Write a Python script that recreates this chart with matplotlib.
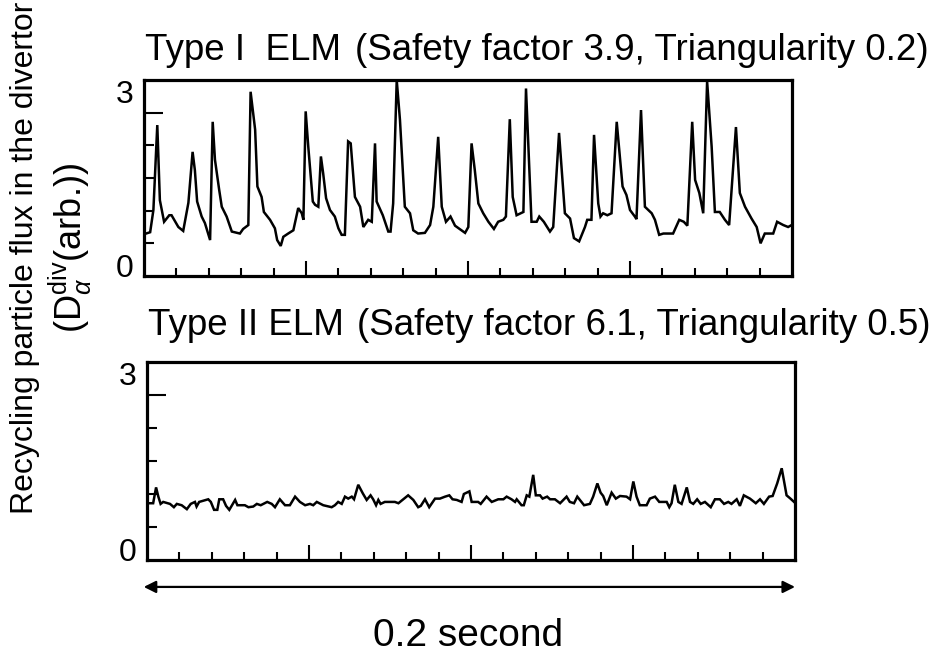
import matplotlib
matplotlib.use('agg')
import matplotlib.pyplot as plt
from matplotlib.ticker import FixedLocator, NullFormatter

plt.rcParams['font.family'] = ['Liberation Sans', 'DejaVu Sans']
plt.rcParams['mathtext.fontset'] = 'custom'
plt.rcParams['mathtext.rm'] = 'Liberation Sans'
plt.rcParams['mathtext.it'] = 'Liberation Sans:italic'

# time in ms (0.2 s window), signal in arb. units
type1_t = [0.0, 1.9, 2.9, 4.1, 4.9, 6.2, 7.8, 8.5, 10.6, 12.1, 13.7, 15.0, 15.7, 16.4, 17.8, 18.8,
           20.4, 21.2, 21.9, 23.2, 24.0, 25.5, 27.1, 29.6, 30.6, 32.2, 32.9, 34.3, 35.0, 36.3, 37.0,
           38.9, 40.4, 41.1, 42.2, 43.0, 44.5, 46.1, 47.6, 48.7, 49.2, 49.9, 50.7, 52.1, 52.8, 53.8,
           54.6, 55.3, 56.2, 57.4, 58.9, 60.0, 61.0, 62.0, 63.0, 63.8, 65.1, 66.7, 67.7, 69.2, 70.3,
           71.3, 71.8, 73.7, 75.4, 76.1, 76.9, 78.0, 79.0, 80.5, 82.1, 83.1, 84.6, 86.7, 88.3, 89.3,
           90.8, 91.9, 93.2, 94.6, 96.0, 98.0, 99.1, 100.1, 101.1, 102.1, 103.2, 104.7, 106.3, 108.0,
           109.3, 110.9, 111.7, 112.9, 113.8, 115.0, 117.1, 117.9, 119.6, 121.2, 122.0, 123.4, 125.3,
           126.3, 128.1, 129.9, 131.5, 132.7, 134.3, 136.1, 136.8, 138.1, 138.9, 140.2, 140.9, 141.7,
           143.0, 144.3, 145.9, 147.7, 148.9, 150.0, 151.5, 152.0, 153.4, 154.6, 156.7, 157.7, 159.0,
           160.3, 163.3, 165.2, 166.6, 167.7, 169.2, 170.1, 171.4, 172.6, 173.8, 175.2, 176.2, 177.7,
           179.3, 180.6, 182.7, 183.9, 185.5, 187.5, 189.1, 190.3, 191.6, 194.2, 195.4, 197.3, 198.8,
           199.9]
type1_v = [0.64, 0.67, 1.01, 2.31, 1.16, 0.83, 0.93, 0.93, 0.75, 0.69, 1.12, 1.90, 1.62, 1.14, 0.91, 0.81,
           0.55, 2.36, 1.78, 1.32, 1.06, 0.91, 0.68, 0.65, 0.72, 0.78, 2.82, 2.24, 1.37, 1.21, 0.98,
           0.86, 0.73, 0.55, 0.46, 0.60, 0.65, 0.70, 1.04, 0.96, 0.86, 2.52, 1.98, 1.14, 1.09, 1.06,
           1.83, 1.57, 1.19, 1.01, 0.91, 0.73, 0.63, 0.63, 2.06, 2.03, 1.21, 1.06, 0.75, 0.86, 0.83,
           2.03, 1.14, 0.93, 0.68, 0.68, 1.11, 3.00, 2.39, 1.06, 0.96, 0.70, 0.65, 0.66, 0.78, 1.06,
           2.13, 1.06, 0.83, 0.91, 0.77, 0.70, 0.66, 0.75, 2.03, 1.62, 1.11, 0.96, 0.83, 0.72,
           0.83, 0.86, 0.91, 2.40, 1.21, 0.93, 0.98, 2.87, 0.83, 0.83, 0.91, 0.83, 0.68,
           0.75, 2.19, 0.96, 0.88, 0.58, 0.53, 0.75, 0.86, 0.86, 2.16, 1.11, 0.91, 0.96,
           0.93, 0.96, 2.36, 1.37, 1.24, 1.01, 0.91, 0.87, 2.54, 1.06, 0.96, 0.86, 0.63,
           0.65, 0.65, 0.86, 0.83, 0.77, 2.36, 1.47, 1.27, 0.96, 2.98, 1.98, 0.98, 0.98,
           0.86, 0.78, 2.28, 1.27, 1.06, 0.88, 0.75, 0.50, 0.65, 0.65, 0.83, 0.78, 0.75,
           0.78]

type2_t = [0.4, 1.9, 2.8, 3.5, 4.2, 5.0, 7.1, 8.3, 9.2, 10.7, 12.3, 13.5, 14.8, 15.3, 16.1, 18.9,
           19.7, 20.7, 21.7, 22.3, 23.5, 24.4, 25.4, 27.2, 27.9, 30.2, 31.3, 32.8, 33.9, 35.1, 37.1,
           38.5, 39.5, 41.0, 42.6, 44.1, 45.7, 47.2, 48.8, 50.3, 51.3, 52.4, 54.4, 57.0, 58.0, 59.0,
           60.1, 61.1, 62.1, 63.2, 63.9, 65.2, 66.6, 67.8, 69.0, 69.8, 70.7, 71.4, 72.1, 73.4, 76.5,
           77.6, 79.1, 80.6, 82.2, 83.7, 84.5, 85.8, 87.1, 88.9, 90.4, 92.0, 93.3, 94.3, 95.6, 97.1,
           97.8, 99.5, 100.2, 100.7, 102.2, 103.0, 104.8, 106.4, 108.4, 110.0, 111.0, 112.5, 113.6,
           114.1, 115.6, 116.3, 117.2, 118.0, 119.2, 120.0, 121.3, 122.1, 123.5, 124.4, 125.9, 127.5,
           129.5, 130.5, 131.8, 132.8, 133.6, 134.9, 136.7, 137.7, 139.0, 140.0, 140.8, 141.9, 143.4,
           144.7, 146.0, 148.0, 149.1, 150.1, 151.1, 152.1, 154.2, 155.2, 156.8, 158.1, 160.4, 161.2,
           161.9, 162.9, 164.0, 165.0, 166.6, 167.6, 168.6, 169.8, 170.9, 172.2, 174.0, 175.3, 176.8,
           178.1, 179.4, 180.4, 182.0, 183.0, 184.2, 186.1, 187.9, 189.2, 190.4, 192.0, 193.1, 194.5,
           195.9, 197.4, 198.6, 199.7]
type2_v = [0.86, 0.86, 1.10, 0.96, 0.85, 0.88, 0.85, 0.80, 0.85, 0.83, 0.77, 0.85, 0.88, 0.81, 0.88, 0.92,
           0.88, 0.76, 0.76, 0.92, 0.92, 0.82, 0.76, 0.91, 0.83, 0.83, 0.80, 0.81, 0.85, 0.83, 0.88,
           0.85, 0.80, 0.92, 0.83, 0.83, 0.96, 0.88, 0.83, 0.85, 0.83, 0.88, 0.83, 0.80, 0.83, 0.88,
           0.85, 0.96, 0.93, 0.96, 0.92, 1.14, 1.01, 0.91, 0.98, 0.92, 0.83, 0.91, 0.85, 0.88, 0.88,
           0.86, 0.92, 0.98, 0.91, 0.80, 0.82, 0.92, 0.80, 0.93, 0.93, 0.96, 0.98, 0.92, 0.91, 0.88,
           1.00, 1.04, 0.88, 0.88, 0.88, 0.85, 0.96, 0.88, 0.92, 0.92, 0.96, 0.92, 0.88,
           0.92, 0.83, 0.83, 0.98, 0.96, 1.29, 0.98, 0.98, 0.93, 0.96, 0.92, 0.92, 0.86,
           0.96, 0.88, 0.86, 0.96, 0.91, 0.83, 0.85, 0.96, 1.16, 1.02, 0.97, 0.83, 1.02,
           0.93, 0.97, 0.96, 0.92, 1.19, 0.96, 0.83, 0.83, 0.93, 0.96, 0.88, 0.88, 0.80,
           0.86, 1.14, 0.88, 0.85, 1.10, 0.88, 0.85, 0.92, 0.85, 0.88, 0.80, 0.92, 0.92,
           0.85, 0.88, 0.85, 0.92, 0.82, 0.98, 0.93, 0.86, 0.92, 0.85, 0.96, 0.97, 1.16,
           1.39, 0.98, 0.93, 0.88]

titles = [("Type I  ELM", "(Safety factor 3.9, Triangularity 0.2)"),
          ("Type II ELM", "(Safety factor 6.1, Triangularity 0.5)")]
ylabel_1 = "Recycling particle flux in the divertor"
ylabel_2 = r"(D$_{\alpha}^{\rm div}$(arb.))"
time_label = "0.2 second"

W, H = 938, 655
fig = plt.figure(figsize=(W / 100, H / 100), dpi=100)

def px_axes(left, top, right, bottom):
    return fig.add_axes([left / W, 1 - bottom / H, (right - left) / W, (bottom - top) / H])

ax1 = px_axes(144, 80, 792, 276)
ax2 = px_axes(147, 362, 795, 560)

for ax, t, v in [(ax1, type1_t, type1_v), (ax2, type2_t, type2_v)]:
    ax.plot(t, v, color='black', lw=1.8, solid_joinstyle='miter')
    ax.set_xlim(0, 200)
    ax.set_ylim(0, 3)
    for s in ax.spines.values():
        s.set_linewidth(2.3)
    ax.xaxis.set_major_locator(FixedLocator([50, 100, 150]))
    ax.xaxis.set_minor_locator(FixedLocator([x for x in range(10, 200, 10) if x % 50]))
    ax.yaxis.set_major_locator(FixedLocator([2.5]))
    ax.yaxis.set_minor_locator(FixedLocator([0.5, 1.0, 1.5, 2.0]))
    ax.xaxis.set_major_formatter(NullFormatter())
    ax.yaxis.set_major_formatter(NullFormatter())
    ax.tick_params(which='both', direction='in', width=1.5, top=False, right=False)
    ax.tick_params(axis='x', which='major', length=11)
    ax.tick_params(axis='x', which='minor', length=6)
    ax.tick_params(axis='y', which='major', length=13.5)
    ax.tick_params(axis='y', which='minor', length=7)
    ax.text(-0.016, 1.0, '3', transform=ax.transAxes, ha='right', va='top', fontsize=23)
    ax.text(-0.016, 0.035, '0', transform=ax.transAxes, ha='right', va='center', fontsize=23)

# panel titles
fig.text(145 / W, 1 - 60 / H, titles[0][0], fontsize=26.5, va='baseline')
fig.text(355 / W, 1 - 60 / H, titles[0][1], fontsize=26.5, va='baseline')
fig.text(148 / W, 1 - 335 / H, titles[1][0], fontsize=26.5, va='baseline')
fig.text(357 / W, 1 - 335 / H, titles[1][1], fontsize=26.5, va='baseline')

# y label, two lines
fig.text(25 / W, 1 - 258 / H, ylabel_1, rotation=90, fontsize=23, ha='center', va='center')
fig.text(70 / W, 1 - 248 / H, ylabel_2, rotation=90, fontsize=26, ha='center', va='center')

# time span arrow
ax2.annotate('', xy=(1.0, -0.136), xytext=(-0.005, -0.136), xycoords='axes fraction',
             arrowprops=dict(arrowstyle='<|-|>', color='black', lw=1.6,
                             mutation_scale=18, shrinkA=0, shrinkB=0))
ax2.text(0.495, -0.384, time_label, transform=ax2.transAxes, ha='center', va='center', fontsize=28)

fig.savefig('out.png', dpi=100)
